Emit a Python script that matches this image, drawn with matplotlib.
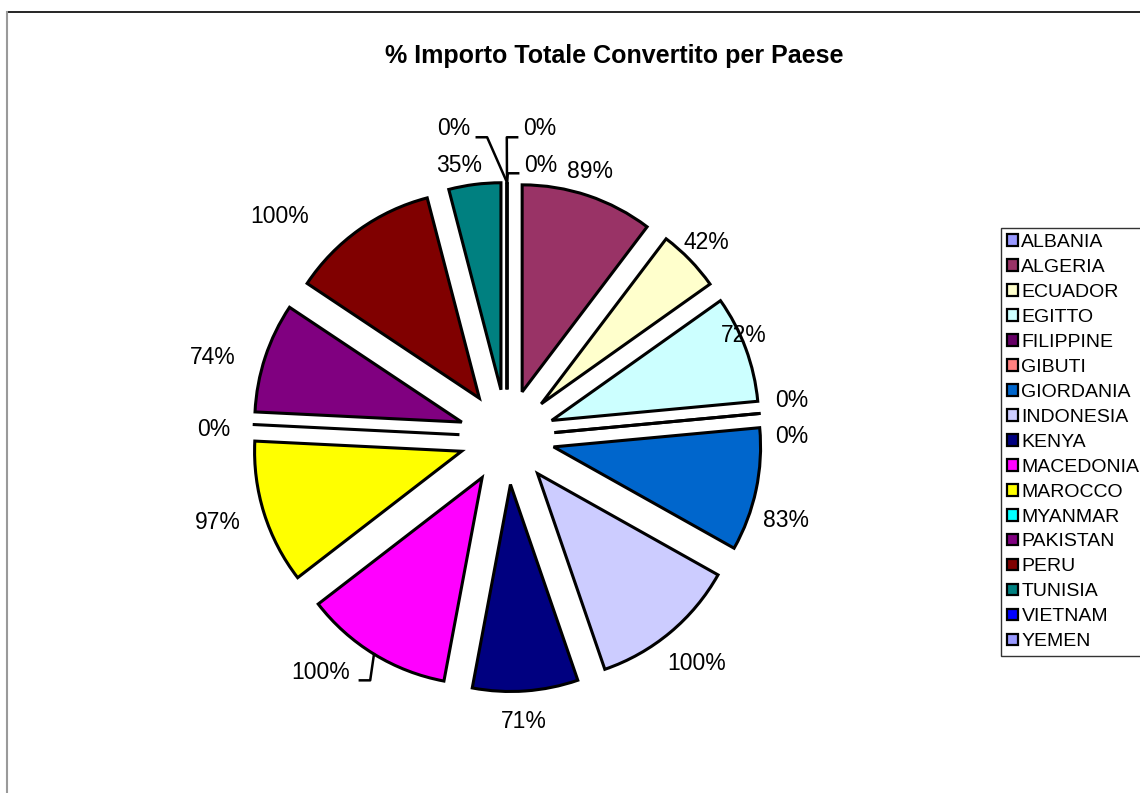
import numpy as np
import matplotlib
matplotlib.use("Agg")
import matplotlib.pyplot as plt
from matplotlib.patches import Patch
from matplotlib.lines import Line2D

plt.rcParams['font.family'] = ['Liberation Sans', 'DejaVu Sans']

# data (slice order = legend order, clockwise from 12 o'clock)
countries = ['ALBANIA', 'ALGERIA', 'ECUADOR', 'EGITTO', 'FILIPPINE', 'GIBUTI',
             'GIORDANIA', 'INDONESIA', 'KENYA', 'MACEDONIA', 'MAROCCO',
             'MYANMAR', 'PAKISTAN', 'PERU', 'TUNISIA', 'VIETNAM', 'YEMEN']
percent = [0, 89, 42, 72, 0, 0, 83, 100, 71, 100, 97, 0, 74, 100, 35, 0, 0]
colors = ['#9999FF', '#993366', '#FFFFCC', '#CCFFFF', '#660066', '#FF8080',
          '#0066CC', '#CCCCFF', '#000080', '#FF00FF', '#FFFF00', '#00FFFF',
          '#800080', '#800000', '#008080', '#0000FF', '#9999FF']

title = '% Importo Totale Convertito per Paese'

# small label nudges (data units) so labels sit like the original
nudge = {
    'ALBANIA': (0.164, -0.006), 'ALGERIA': (-0.04, 0.03), 'ECUADOR': (-0.03, 0.02),
    'EGITTO': (-0.15, 0.03), 'FILIPPINE': (0.0, 0.055), 'GIBUTI': (0.0, -0.12),
    'GIORDANIA': (0.0, -0.13), 'INDONESIA': (0.03, -0.08), 'KENYA': (-0.02, -0.06),
    'MACEDONIA': (-0.18, -0.01), 'MAROCCO': (-0.08, -0.02), 'MYANMAR': (-0.04, -0.03),
    'PAKISTAN': (-0.11, -0.03), 'PERU': (-0.30, -0.01), 'TUNISIA': (-0.055, 0.0),
    'VIETNAM': (-0.256, 0.168), 'YEMEN': (0.159, 0.168),
}
leader = ['ALBANIA', 'VIETNAM', 'YEMEN', 'MACEDONIA']

W, H = 1140, 793
fig = plt.figure(figsize=(W / 100, H / 100), dpi=100)

# chart frame (top and left edge visible)
fig.add_artist(Line2D([7 / W, 1], [1 - 12 / H] * 2, color='black', lw=1.2))
fig.add_artist(Line2D([7 / W] * 2, [0, 1 - 12 / H], color='#9a9a9a', lw=1.5))

cx, cy, R, lim = 507, 437, 207, 1.5
side = 2 * lim * R
ax = fig.add_axes([(cx - side / 2) / W, (H - cy - side / 2) / H, side / W, side / H])

wedges, _ = ax.pie(percent, colors=colors, startangle=90, counterclock=False,
                   explode=[0.23] * len(percent),
                   wedgeprops=dict(edgecolor='black', linewidth=2.2, joinstyle='miter'))
ax.set_xlim(-lim, lim)
ax.set_ylim(-lim, lim)
ax.axis('off')

r0, hw, hh = 1.27, 0.11, 0.05
for w, name, v in zip(wedges, countries, percent):
    th = np.deg2rad((w.theta1 + w.theta2) / 2)
    c, s = np.cos(th), np.sin(th)
    dx, dy = nudge.get(name, (0, 0))
    tx = (r0 + hw) * c + dx
    ty = (r0 + hh) * s + dy
    label = f'{v}%'
    ax.text(tx, ty, label, ha='center', va='center', fontsize=16.5, clip_on=False)
    if name in leader:
        # tip of the wedge on its outer arc
        ex = w.center[0] + w.r * c
        ey = w.center[1] + w.r * s
        half = 0.04 * len(label)
        if tx < ex:
            x0 = tx + half + 0.03
            xs = [x0, x0 + 0.05, ex]
        else:
            x0 = tx - half - 0.03
            xs = [x0, x0 - 0.05, ex]
        ys = [ty - 0.04, ty - 0.04, ey]
        ax.plot(xs, ys, color='black', lw=1.8, clip_on=False)

fig.text(614 / W, 1 - 56 / H, title, ha='center', va='center',
         fontsize=18, fontweight='bold')

handles = [Patch(facecolor=col, edgecolor='black', linewidth=1.6) for col in colors]
leg = fig.legend(handles, countries, loc='upper left',
                 bbox_to_anchor=(1001 / W, 1 - 228 / H), borderaxespad=0,
                 fontsize=14, frameon=True, fancybox=False, edgecolor='black',
                 handlelength=0.55, handleheight=0.55, handletextpad=0.2,
                 labelspacing=0.41, borderpad=0.3)
leg.get_frame().set_linewidth(1.0)

fig.savefig('out.png', dpi=100)
